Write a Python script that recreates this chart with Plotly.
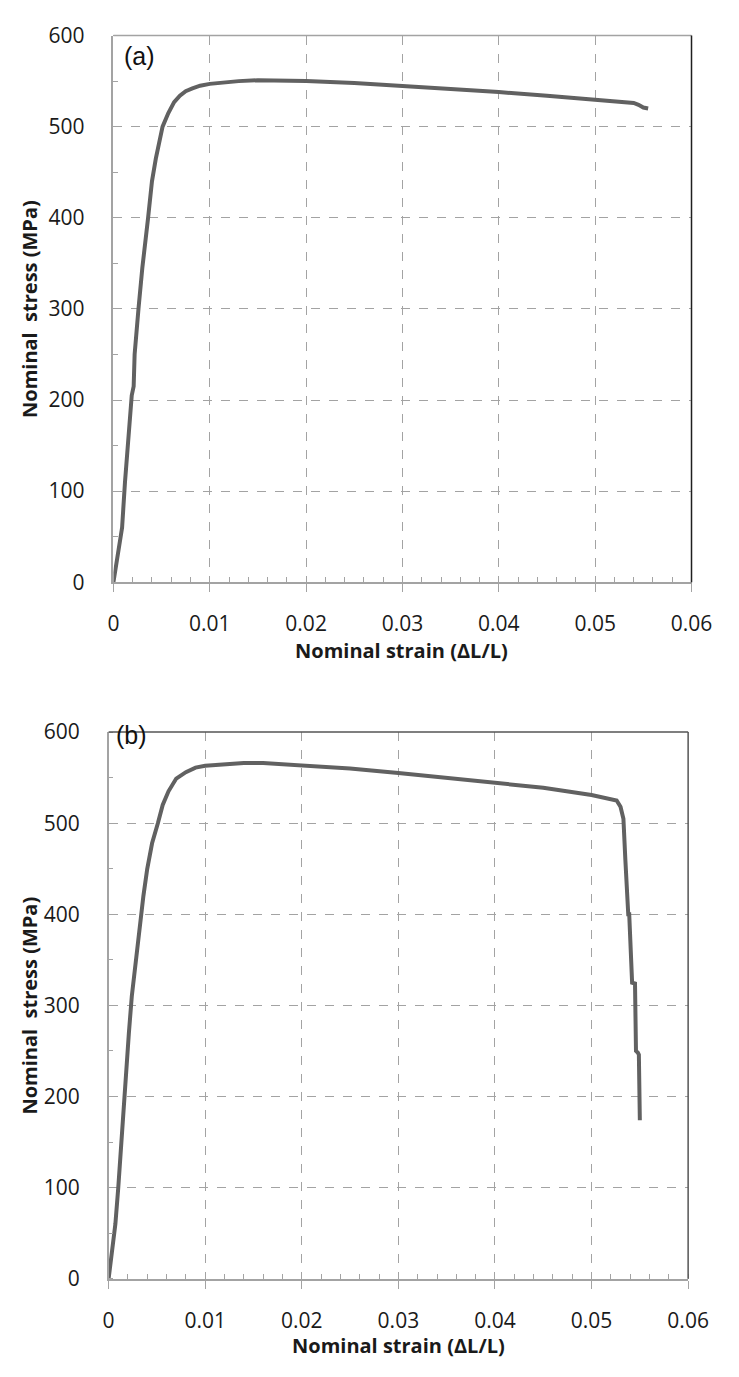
import plotly.graph_objects as go

# (a) nominal stress-strain curve
strain_a = [0, 0.0005, 0.0009, 0.0012, 0.0016, 0.0019, 0.0021, 0.0022, 0.0026, 0.003, 0.0036,
            0.004, 0.0044, 0.0051, 0.0057, 0.0063, 0.0069, 0.0075, 0.0082, 0.009, 0.01, 0.0115,
            0.013, 0.015, 0.0175, 0.02, 0.025, 0.03, 0.035, 0.04, 0.045, 0.05, 0.053, 0.054,
            0.0545, 0.055, 0.0555]
stress_a = [0, 30, 60, 110, 165, 205, 215, 250, 300, 345, 400, 440, 465, 500, 515, 527, 534, 539,
            542, 545, 547, 549, 550, 551, 551, 550, 548, 545, 541, 538, 534, 530, 527, 526,
            524, 521, 520]

# (b) nominal stress-strain curve
strain_b = [0, 0.0004, 0.0007, 0.001, 0.0013, 0.0016, 0.0019, 0.0021, 0.0024, 0.0028, 0.0032,
            0.0036, 0.004, 0.0045, 0.0051, 0.0056, 0.0062, 0.007, 0.008, 0.009, 0.01, 0.012,
            0.014, 0.016, 0.02, 0.025, 0.03, 0.035, 0.04, 0.045, 0.05, 0.0515, 0.0526, 0.053,
            0.0533, 0.0535, 0.0537, 0.0538, 0.0539, 0.0541, 0.0542, 0.0545, 0.0546, 0.0548,
            0.0549, 0.055]
stress_b = [0, 30, 60, 100, 150, 195, 235, 270, 310, 350, 385, 420, 450, 478, 500, 520, 535, 549,
            556, 561, 563, 565, 566, 566, 563, 560, 555, 550, 545, 539, 531, 528, 525, 518,
            505, 460, 405, 400, 400, 330, 325, 324, 250, 248, 246, 174]

x_ticks = [0, 0.01, 0.02, 0.03, 0.04, 0.05, 0.06]
x_tick_labels = ["0", "0.01", "0.02", "0.03", "0.04", "0.05", "0.06"]
y_ticks = [0, 100, 200, 300, 400, 500, 600]

W, H = 739, 1377
line_color = "#616161"
axis_color = "#a3a3a3"
grid_color = "#a3a3a3"
tick_font = dict(family="Open Sans, Noto Sans, sans-serif", size=21, color="#1a1a1a")
title_font = dict(family="Open Sans, Noto Sans, sans-serif", size=20, color="#1a1a1a")
label_font = dict(family="Liberation Sans, Arial, sans-serif", size=25, color="#111111")

fig = go.Figure()
fig.add_trace(go.Scatter(x=strain_a, y=stress_a, mode="lines",
                         line=dict(color=line_color, width=4), xaxis="x", yaxis="y",
                         showlegend=False, hoverinfo="skip"))
fig.add_trace(go.Scatter(x=strain_b, y=stress_b, mode="lines",
                         line=dict(color=line_color, width=4), xaxis="x2", yaxis="y2",
                         showlegend=False, hoverinfo="skip"))


def xaxis_def(domain, anchor):
    return dict(domain=domain, anchor=anchor, range=[0, 0.06], tickvals=x_ticks,
                ticktext=x_tick_labels, showline=True, linecolor=axis_color, linewidth=1.5,
                ticks="outside", ticklen=8, tickcolor=axis_color, tickwidth=1,
                showgrid=True, gridcolor=grid_color, griddash="dash", gridwidth=1,
                zeroline=False, tickfont=tick_font, ticklabelstandoff=14,
                minor=dict(dtick=0.002, ticks="inside", ticklen=5, tickcolor=axis_color,
                           showgrid=False))


def yaxis_def(domain, anchor):
    return dict(domain=domain, anchor=anchor, range=[0, 600], tickvals=y_ticks,
                showline=True, linecolor=axis_color, linewidth=1.5,
                ticks="", showgrid=True, gridcolor=grid_color, griddash="dash", gridwidth=1,
                zeroline=False, tickfont=tick_font, ticklabelstandoff=23,
                minor=dict(dtick=50, ticks="inside", ticklen=5, tickcolor=axis_color,
                           showgrid=False))


def px_x(v):
    return v / W


def px_y(v):
    return 1 - v / H


fig.update_layout(
    width=W, height=H, margin=dict(l=0, r=0, t=0, b=0),
    plot_bgcolor="white", paper_bgcolor="white",
    xaxis=xaxis_def([px_x(111.5), px_x(711.5)], "y"),
    yaxis=yaxis_def([px_y(579), px_y(21)], "x"),
    xaxis2=xaxis_def([px_x(106.5), px_x(708)], "y2"),
    yaxis2=yaxis_def([px_y(1290), px_y(732)], "x2"),
)

# plot frame: top and right borders
for xr, yr, top_col, right_col in [("x domain", "y domain", axis_color, "#1f1f1f"),
                                   ("x2 domain", "y2 domain", "#555555", "#555555")]:
    fig.add_shape(type="line", xref=xr, yref=yr, x0=0, x1=1, y0=1, y1=1,
                  line=dict(color=top_col, width=1.5))
    fig.add_shape(type="line", xref=xr, yref=yr, x0=1, x1=1, y0=0, y1=1,
                  line=dict(color=right_col, width=1.5))

ann = []
ann.append(dict(text="(a)", xref="paper", yref="paper", x=px_x(120), y=px_y(42),
                xanchor="left", yanchor="middle", showarrow=False, font=label_font))
ann.append(dict(text="(b)", xref="paper", yref="paper", x=px_x(112), y=px_y(735),
                xanchor="left", yanchor="middle", showarrow=False, font=label_font))
for xc, yc in [(411, 649), (407, 1358)]:
    ann.append(dict(text="<b>Nominal strain (ΔL/L)</b>", xref="paper", yref="paper",
                    x=px_x(xc), y=px_y(yc), xanchor="center", yanchor="middle",
                    showarrow=False, font=title_font))
for xc, yc in [(25, 300), (24, 1011)]:
    ann.append(dict(text="<b>Nominal\u00a0 stress (MPa)</b>", xref="paper", yref="paper",
                    x=px_x(xc), y=px_y(yc), xanchor="center", yanchor="middle",
                    textangle=-90, showarrow=False, font=title_font))
fig.update_layout(annotations=ann)

fig.write_html("out.html", config={"displayModeBar": False},
               post_script="document.body.style.margin='0px';")
